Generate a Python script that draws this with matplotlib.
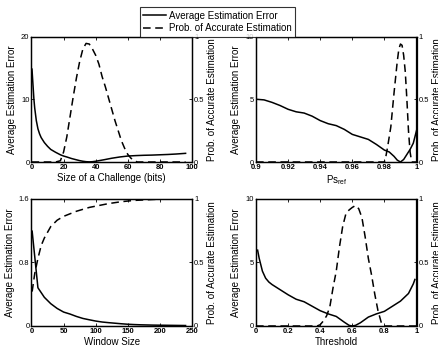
import matplotlib
matplotlib.use("Agg")
import matplotlib.pyplot as plt
from matplotlib.lines import Line2D

plt.rcParams['font.family'] = ['Liberation Sans', 'DejaVu Sans']
plt.rcParams['mathtext.fontset'] = 'custom'
plt.rcParams['mathtext.rm'] = 'Liberation Sans'

# ---------------- data ----------------
# Panel 1: size of a challenge (bits)
chal_x_err = [0.3, 1, 1.5, 2, 3, 4, 5, 6, 8, 10, 12, 15, 18, 20, 22, 25, 28, 30, 32, 34,
              36, 38, 40, 45, 50, 55, 60, 65, 70, 75, 80, 85, 90, 96]
chal_err = [14.8, 12.0, 10.0, 8.6, 6.6, 5.3, 4.5, 3.9, 3.1, 2.5, 2.0, 1.55, 1.15, 0.95, 0.8,
            0.55, 0.35, 0.22, 0.12, 0.05, 0.02, 0.05, 0.12, 0.35, 0.6, 0.8, 0.95, 1.02,
            1.07, 1.1, 1.15, 1.2, 1.27, 1.38]
chal_x_prob = [0, 5, 10, 15, 18, 20, 22, 24, 26, 28, 30, 32, 34, 36, 38, 40, 42, 44, 46, 48,
               50, 52, 54, 56, 58, 60, 62, 64, 66, 70, 80, 90, 96]
chal_prob = [0, 0, 0, 0, 0.01, 0.08, 0.2, 0.36, 0.52, 0.67, 0.8, 0.9, 0.945, 0.94, 0.9, 0.85,
             0.78, 0.68, 0.6, 0.51, 0.42, 0.33, 0.25, 0.17, 0.11, 0.06, 0.03, 0.01, 0, 0, 0, 0, 0]

# Panel 2: Ps_ref
ps_x_err = [0.900, 0.905, 0.910, 0.915, 0.920, 0.925, 0.930, 0.935, 0.940, 0.945, 0.950,
            0.955, 0.960, 0.965, 0.970, 0.975, 0.980, 0.983, 0.986, 0.988, 0.990, 0.992,
            0.994, 0.996, 0.998, 1.000]
ps_err = [5.0, 4.95, 4.75, 4.5, 4.2, 4.0, 3.9, 3.65, 3.3, 3.05, 2.9, 2.6, 2.2, 2.0, 1.8, 1.4,
          0.95, 0.8, 0.45, 0.15, 0.0, 0.2, 0.6, 1.0, 1.5, 2.5]
ps_x_prob = [0.900, 0.910, 0.920, 0.930, 0.940, 0.950, 0.960, 0.970, 0.980, 0.981, 0.982,
             0.984, 0.986, 0.988, 0.989, 0.990, 0.991, 0.992, 0.993, 0.994, 0.995, 0.996,
             0.997, 0.998, 1.000]
ps_prob = [0, 0, 0, 0, 0, 0, 0, 0, 0, 0.05, 0.12, 0.28, 0.55, 0.8, 0.9, 0.94, 0.93, 0.85,
           0.72, 0.5, 0.25, 0.08, 0.0, 0, 0]

# Panel 3: window size
win_x_err = [1, 10, 20, 30, 40, 50, 60, 70, 80, 90, 100, 110, 120, 130, 140, 150, 160,
             170, 180, 190, 200, 210, 220, 230, 240]
win_err = [1.19, 0.48, 0.36, 0.28, 0.22, 0.175, 0.15, 0.12, 0.095, 0.078, 0.062, 0.05,
           0.042, 0.035, 0.028, 0.022, 0.018, 0.015, 0.013, 0.011, 0.010, 0.009, 0.008,
           0.007, 0.006]
win_x_prob = [1, 5, 10, 15, 20, 30, 40, 50, 60, 70, 80, 90, 100, 120, 140, 160, 180, 200,
              220, 240]
win_prob = [0.27, 0.41, 0.53, 0.63, 0.69, 0.78, 0.83, 0.86, 0.88, 0.9, 0.915, 0.93, 0.94,
            0.96, 0.975, 0.985, 0.99, 0.995, 0.998, 1.0]

# Panel 4: threshold
thr_x_err = [0.01, 0.02, 0.04, 0.06, 0.08, 0.10, 0.15, 0.20, 0.25, 0.30, 0.35, 0.40, 0.45,
             0.50, 0.55, 0.58, 0.60, 0.62, 0.65, 0.70, 0.75, 0.80, 0.85, 0.90, 0.95, 0.98, 0.99]
thr_err = [5.95, 5.3, 4.3, 3.75, 3.45, 3.25, 2.85, 2.45, 2.1, 1.9, 1.55, 1.2, 0.95, 0.75,
           0.3, 0.05, 0.0, 0.05, 0.25, 0.7, 0.95, 1.15, 1.55, 1.95, 2.55, 3.3, 3.65]
thr_x_prob = [0.0, 0.05, 0.10, 0.15, 0.20, 0.25, 0.30, 0.35, 0.38, 0.40, 0.42, 0.44, 0.46,
              0.48, 0.50, 0.52, 0.54, 0.56, 0.58, 0.60, 0.62, 0.64, 0.66, 0.68, 0.70, 0.72,
              0.74, 0.76, 0.78, 0.80, 0.85, 0.90, 0.95, 1.0]
thr_prob = [0, 0, 0, 0, 0, 0, 0, 0, 0, 0.01, 0.04, 0.08, 0.15, 0.3, 0.43, 0.62, 0.78, 0.88,
            0.91, 0.93, 0.945, 0.92, 0.85, 0.7, 0.53, 0.4, 0.25, 0.12, 0.03, 0, 0, 0, 0, 0]

# axis settings
panels = [
    dict(xe=chal_x_err, ye=chal_err, xp=chal_x_prob, yp=chal_prob,
         xlim=(0, 100), xticks=[0, 20, 40, 60, 80, 100],
         xticklabels=['0', '20', '40', '60', '80', '100'],
         ylim=(0, 20), yticks=[0, 10, 20], yticklabels=['0', '10', '20'],
         xlabel='Size of a Challenge (bits)'),
    dict(xe=ps_x_err, ye=ps_err, xp=ps_x_prob, yp=ps_prob,
         xlim=(0.9, 1.0), xticks=[0.9, 0.92, 0.94, 0.96, 0.98, 1.0],
         xticklabels=['0.9', '0.92', '0.94', '0.96', '0.98', '1'],
         ylim=(0, 10), yticks=[0, 5, 10], yticklabels=['0', '5', '10'],
         xlabel=r'Ps$_\mathregular{ref}$'),
    dict(xe=win_x_err, ye=win_err, xp=win_x_prob, yp=win_prob,
         xlim=(0, 250), xticks=[0, 50, 100, 150, 200, 250],
         xticklabels=['0', '50', '100', '150', '200', '250'],
         ylim=(0, 1.6), yticks=[0, 0.8, 1.6], yticklabels=['0', '0.8', '1.6'],
         xlabel='Window Size'),
    dict(xe=thr_x_err, ye=thr_err, xp=thr_x_prob, yp=thr_prob,
         xlim=(0, 1), xticks=[0, 0.2, 0.4, 0.6, 0.8, 1.0],
         xticklabels=['0', '0.2', '0.4', '0.6', '0.8', '1'],
         ylim=(0, 10), yticks=[0, 5, 10], yticklabels=['0', '5', '10'],
         xlabel='Threshold'),
]
right_ticks = [0, 0.5, 1]
right_ticklabels = ['0', '0.5', '1']
err_label = 'Average Estimation Error'
prob_label = 'Prob. of Accurate Estimation'

W, H = 439, 355
fig = plt.figure(figsize=(W / 100, H / 100), dpi=100)

rects = [
    [31.5 / W, 1 - 162 / H, 160.5 / W, 125.5 / H],
    [256 / W, 1 - 162 / H, 160.5 / W, 125.5 / H],
    [31.5 / W, 1 - 326 / H, 160.5 / W, 127.5 / H],
    [256 / W, 1 - 326 / H, 160.5 / W, 127.5 / H],
]

FS = 7
TFS = 5.5
LW = 1.1
for rect, p in zip(rects, panels):
    ax = fig.add_axes(rect)
    ax2 = ax.twinx()
    ax.plot(p['xe'], p['ye'], color='black', lw=LW, solid_joinstyle='round')
    ax2.plot(p['xp'], p['yp'], color='black', lw=LW, linestyle=(0, (5, 3)))
    ax.set_xlim(*p['xlim'])
    ax.set_ylim(*p['ylim'])
    ax2.set_ylim(0, 1)
    ax.set_xticks(p['xticks'])
    ax.set_xticklabels(p['xticklabels'], fontsize=TFS, fontweight='bold')
    ax.set_yticks(p['yticks'])
    ax.set_yticklabels(p['yticklabels'], fontsize=TFS)
    ax2.set_yticks(right_ticks)
    ax2.set_yticklabels(right_ticklabels, fontsize=TFS)
    ax.tick_params(axis='x', direction='in', length=2.5, width=0.6, top=True, pad=1.5)
    ax.tick_params(axis='y', direction='in', length=2.5, width=0.6, pad=1.5)
    ax2.tick_params(axis='y', direction='in', length=2.5, width=0.6, pad=1.5)
    for a in (ax, ax2):
        for s in a.spines.values():
            s.set_linewidth(0.9)
    ax.set_xlabel(p['xlabel'], fontsize=FS, labelpad=1.5)
    ax.set_ylabel(err_label, fontsize=FS, labelpad=3)
    ax2.set_ylabel(prob_label, fontsize=FS, labelpad=2)

handles = [Line2D([], [], color='black', lw=LW),
           Line2D([], [], color='black', lw=LW, linestyle=(0, (5, 3)))]
leg = fig.legend(handles, [err_label, prob_label], loc='upper center',
                 bbox_to_anchor=(217.5 / W, 1 - 2.5 / H), fontsize=FS,
                 frameon=True, fancybox=False, edgecolor='black',
                 handlelength=2.4, handletextpad=0.3, borderpad=0.35,
                 labelspacing=0.25)
leg.get_frame().set_linewidth(0.8)

fig.savefig('out.png', dpi=100)
